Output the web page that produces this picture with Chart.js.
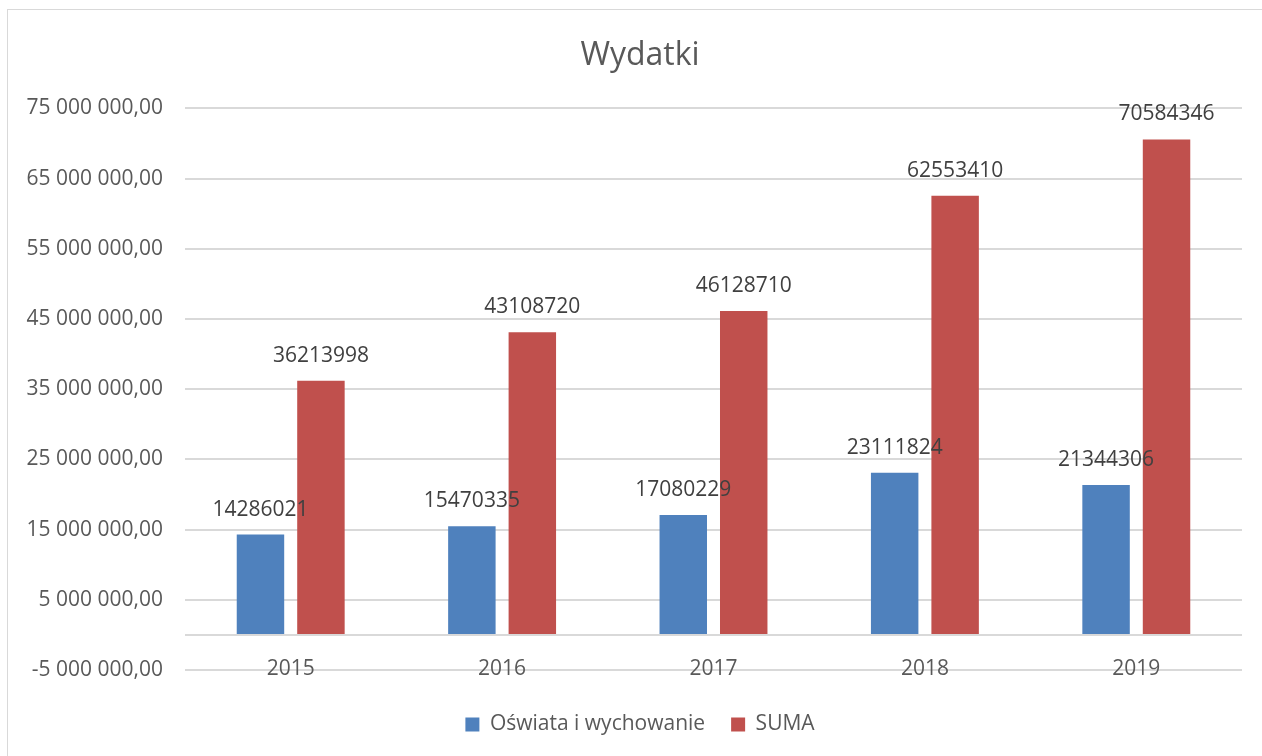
<!DOCTYPE html>
<html>
<head>
<meta charset="utf-8">
<script src="https://cdn.jsdelivr.net/npm/chart.js@4.4.1/dist/chart.umd.min.js"></script>
<style>
    html, body { margin: 0; padding: 0; background: #fff; overflow: hidden; }
    #box {
        position: absolute; left: 7px; top: 9px;
        width: 1264px; height: 747px;
        border-left: 1px solid #d9d9d9; border-top: 1px solid #d9d9d9;
    }
</style>
</head>
<body>
<div id="box"><canvas id="chart" width="1264" height="747"></canvas></div>
<script>
const years = ['2015', '2016', '2017', '2018', '2019'];
const oswiata = [14286021, 15470335, 17080229, 23111824, 21344306];
const suma = [36213998, 43108720, 46128710, 62553410, 70584346];
const yTicks = [-5000000, 0, 5000000, 15000000, 25000000, 35000000, 45000000, 55000000, 65000000, 75000000];

const FONT = '"Open Sans", sans-serif';

// "75 000 000,00" style
function plNumber(v) {
    const neg = v < 0;
    const s = Math.abs(v).toFixed(0).replace(/\B(?=(\d{3})+(?!\d))/g, ' ');
    return (neg ? '-' : '') + s + ',00';
}

// draw the value above every bar
const valueLabels = {
    id: 'valueLabels',
    afterDatasetsDraw(chart) {
        const ctx = chart.ctx;
        ctx.save();
        ctx.font = '21px ' + FONT;
        ctx.fillStyle = '#404040';
        ctx.textAlign = 'center';
        ctx.textBaseline = 'middle';
        chart.data.datasets.forEach((ds, i) => {
            chart.getDatasetMeta(i).data.forEach((bar, j) => {
                ctx.fillText(String(ds.data[j]), bar.x, bar.y - 25);
            });
        });
        ctx.restore();
    }
};

new Chart(document.getElementById('chart'), {
    type: 'bar',
    data: {
        labels: years,
        datasets: [
            { label: 'Oświata i wychowanie', data: oswiata, backgroundColor: '#4F81BD' },
            { label: 'SUMA', data: suma, backgroundColor: '#C0504D' }
        ]
    },
    options: {
        responsive: false,
        animation: false,
        layout: { padding: { left: 0, right: 0, top: 0, bottom: 12 } },
        datasets: {
            bar: { categoryPercentage: 0.572, barPercentage: 0.785 }
        },
        plugins: {
            title: {
                display: true,
                text: 'Wydatki',
                color: '#595959',
                font: { family: FONT, size: 32, weight: 'normal' },
                padding: { top: 27, bottom: 33 }
            },
            legend: {
                position: 'bottom',
                labels: {
                    color: '#595959',
                    font: { family: FONT, size: 21 },
                    boxWidth: 14,
                    boxHeight: 14,
                    padding: 26
                }
            },
            tooltip: { enabled: false }
        },
        scales: {
            x: {
                grid: { display: false },
                border: { display: false },
                // mirror keeps the labels from being clipped to the axis box
                ticks: { color: '#595959', font: { family: FONT, size: 21 }, padding: -12, mirror: true },
                afterFit(scale) { scale.height = 18; }
            },
            y: {
                min: -5000000,
                max: 75000000,
                afterBuildTicks(scale) { scale.ticks = yTicks.map(v => ({ value: v })); },
                grid: { color: '#d9d9d9', lineWidth: 2, drawTicks: false },
                border: { display: false },
                ticks: {
                    color: '#595959',
                    font: { family: FONT, size: 21 },
                    padding: 22,
                    callback: v => (v === 0 ? '' : plNumber(v))
                },
                afterFit(scale) { scale.width = 177; }
            },
            // empty right axis, just reserves the right margin
            yRight: {
                position: 'right',
                grid: { display: false },
                border: { display: false },
                ticks: { display: false },
                afterFit(scale) { scale.width = 30; }
            }
        }
    },
    plugins: [valueLabels]
});
</script>
</body>
</html>
